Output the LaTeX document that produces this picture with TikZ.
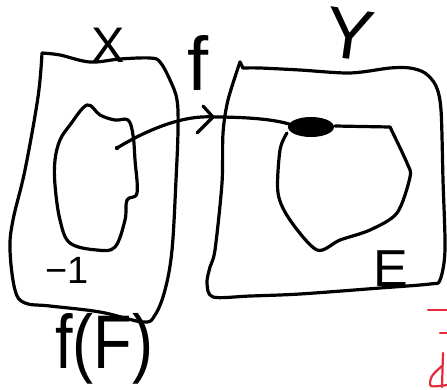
\documentclass[tikz,border=0pt]{standalone}
\usepackage{fontspec}
\setsansfont{Liberation Sans}
\definecolor{penred}{RGB}{232,40,60}
\begin{document}
\begin{tikzpicture}[x=1pt,y=-1pt,line cap=round,line join=round]
\tikzset{
  ink/.style={line width=3.2pt,black},
  redink/.style={line width=2.2pt,penred},
  hand/.style={font=\sffamily\fontsize{#1}{#1}\selectfont,inner sep=0pt,text=black},
}
\useasboundingbox (0,0) rectangle (447,389);
% set X
\draw[ink] plot[smooth,tension=0.6] coordinates {(42,53) (60,55) (90,62) (120,59) (150,58) (160,62) (170,80) (177,100) (178,130) (176,180) (172,250) (165,290) (155,315) (143,322) (100,312) (50,306) (25,303) (15,290) (10,250) (13,220) (25,170) (38,97) (42,53)};
% preimage blob
\draw[ink] plot[smooth cycle,tension=0.6] coordinates {(87,105) (100,115) (115,120) (128,120) (133,135) (135,160) (137,193) (127,200) (125,220) (115,247) (97,250) (70,243) (60,220) (55,185) (55,160) (60,140) (70,125)};
% set Y
\draw[ink] plot[smooth,tension=0.5] coordinates {(243,68) (260,68) (300,70) (350,73) (390,68) (410,68) (425,73) (436,86) (441,110) (443,180) (445,250) (440,280) (430,284) (380,288) (300,294) (250,296) (213,297) (207,283) (210,267) (215,250) (222,183) (223,133) (228,100) (240,62)};
\draw[ink] (240,62) -- (243,68);
% set F
\draw[ink] (335,126) -- (390,127);
\draw[ink] plot[smooth,tension=0.5] coordinates {(390,127) (407,163) (410,177) (397,213) (370,230) (340,240) (317,250) (290,220) (278,193) (280,150) (287,133)};
% point and its image
\coordinate (p) at (117,148);
\fill (p) circle (2.2pt);
\fill (311,127) ellipse [x radius=23, y radius=10];
\coordinate (q) at (292,125);
\coordinate (tip) at (213,117);
\draw[ink] (p) .. controls (150,128) and (185,115) .. (tip) .. controls (245,117) and (275,119) .. (q);
\draw[ink] (203,106) -- (tip) -- (197,133);
% labels
\node[hand=50] (lx) at (108,45) {X};
\node[hand=72,rotate=-8] (ly) at (350,34) {Y};
\node[hand=76] (lf) at (198,63) {f};
\node[hand=52] (le) at (391,269) {E};
\node[hand=38] (lm) at (67,270) {−1};
\node[hand=76,xscale=0.83,anchor=base west] (lff) at (55,368) {f(F)};
% red marks
\draw[redink] (428,310) -- (447,310);
\draw[redink] (440,333) -- (447,333);
\draw[redink] (443,353) -- (442,387);
\draw[redink] plot[smooth] coordinates {(442,366) (432,376) (431,386) (447,385)};
\end{tikzpicture}
\end{document}
